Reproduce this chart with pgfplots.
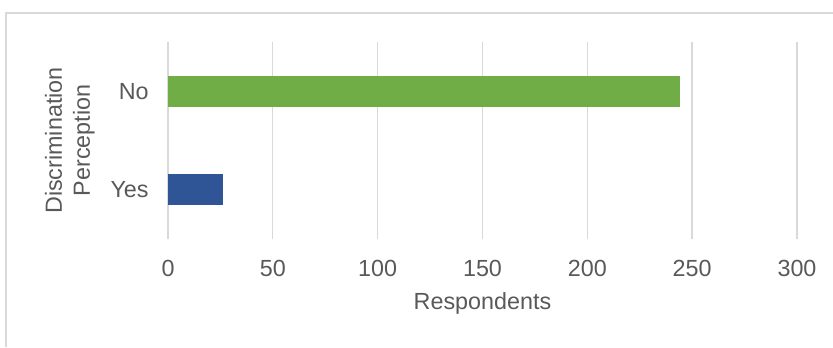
\documentclass[border=0pt]{standalone}
\usepackage{pgfplots}
\pgfplotsset{compat=1.18}
\usepackage{fontspec}
\setmainfont{Liberation Sans}
\definecolor{txt}{HTML}{595959}
\definecolor{gridc}{HTML}{D9D9D9}
\definecolor{yesblue}{HTML}{2F5597}
\definecolor{nogreen}{HTML}{70AD47}
\newcommand{\lbl}{\fontsize{17.5}{21}\selectfont}
\begin{document}
\begin{tikzpicture}[x=0.75pt,y=0.75pt]
\useasboundingbox (-168,-108) rectangle (665,239);
\draw[gridc, line width=1.1pt] (-162,-108) -- (-162,226) -- (665,226);
\begin{axis}[
    at={(0,0)}, anchor=south west,
    scale only axis,
    width=471.75pt, height=147.75pt,
    xmin=0, xmax=300, ymin=-0.5, ymax=1.5,
    xbar, bar width=23.25pt, bar shift=0pt,
    xtick={0,50,...,300},
    ytick={0,1}, yticklabels={Yes,No},
    axis line style={draw=none},
    major tick length=0pt,
    xmajorgrids,
    grid style={gridc, line width=1pt},
    /pgf/number format/assume math mode=true,
    tick label style={font=\lbl, text=txt},
    xticklabel style={yshift=-12pt},
    yticklabel style={xshift=-11pt},
    xlabel={Respondents},
    xlabel style={font=\lbl, text=txt, at={(axis description cs:0.5,-0.36)}, anchor=base},
    ylabel={Discrimination\\Perception},
    ylabel style={font=\lbl, text=txt, align=center, at={(axis description cs:-0.156,0.5)}, anchor=center},
]
\addplot[fill=yesblue, draw=none] coordinates {(26,0)};
\addplot[fill=nogreen, draw=none] coordinates {(244,1)};
\end{axis}
\end{tikzpicture}
\end{document}
